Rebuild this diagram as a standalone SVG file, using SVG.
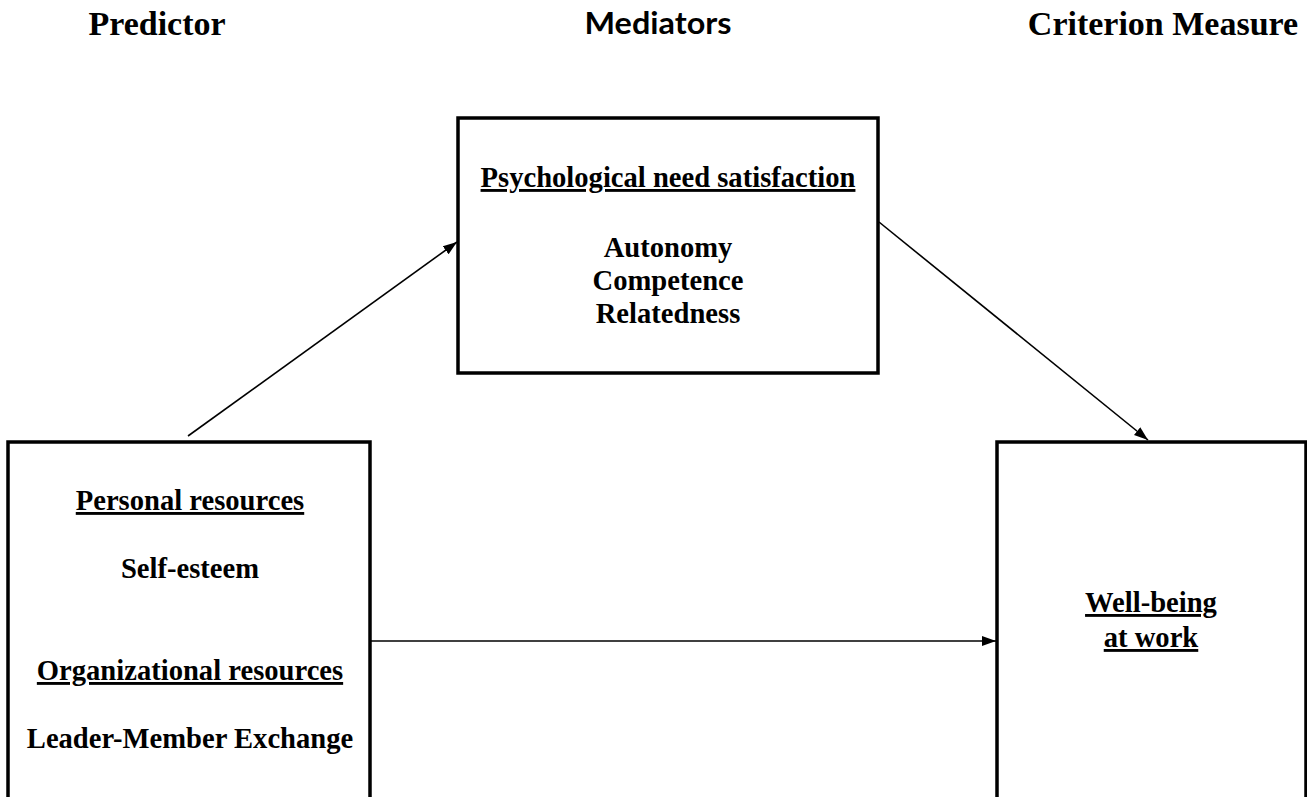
<svg xmlns="http://www.w3.org/2000/svg" width="1307" height="797" viewBox="0 0 1307 797">
<defs>
<marker id="arr" markerUnits="userSpaceOnUse" markerWidth="15" markerHeight="12" refX="14" refY="6" orient="auto">
<path d="M0,1 L14,6 L0,11 Z" fill="#000"/>
</marker>
</defs>
<style>
.box{fill:#fff;stroke:#000;stroke-width:3.5}
.t{font-family:"Liberation Serif","Times New Roman",serif;font-weight:bold;fill:#000;text-anchor:middle}
.hd{font-size:34px}
.lb{font-size:28.6px}
.u{text-decoration:underline}
.c{stroke:#000;stroke-width:1.6;fill:none;marker-end:url(#arr)}
</style>
<rect width="1307" height="797" fill="#fff"/>
<g id="headers">
<text class="t hd" x="157" y="35">Predictor</text>
<text x="658" y="34" font-family="Lato,'Open Sans',sans-serif" font-weight="bold" font-size="30" text-anchor="middle" textLength="147" lengthAdjust="spacingAndGlyphs">Mediators</text>
<text class="t hd" x="1163" y="35">Criterion Measure</text>
</g>
<g id="predictor">
<rect class="box" x="8" y="442" width="362" height="370"/>
<text class="t lb u" x="190" y="510">Personal resources</text>
<text class="t lb" x="190" y="578">Self-esteem</text>
<text class="t lb u" x="190" y="680">Organizational resources</text>
<text class="t lb" x="190" y="748">Leader-Member Exchange</text>
</g>
<g id="mediators">
<rect class="box" x="458" y="118" width="420" height="255"/>
<text class="t lb u" x="668" y="187">Psychological need satisfaction</text>
<text class="t lb" x="668" y="257">Autonomy</text>
<text class="t lb" x="668" y="290">Competence</text>
<text class="t lb" x="668" y="323">Relatedness</text>
</g>
<g id="criterion">
<rect class="box" x="997" y="442" width="309" height="370"/>
<text class="t lb u" x="1151" y="612">Well-being</text>
<text class="t lb u" x="1151" y="647">at work</text>
</g>
<g id="connectors">
<line class="c" x1="188" y1="436" x2="457" y2="242"/>
<line class="c" x1="879" y1="222" x2="1148" y2="440"/>
<line class="c" x1="371" y1="641" x2="996" y2="641"/>
</g>
</svg>
